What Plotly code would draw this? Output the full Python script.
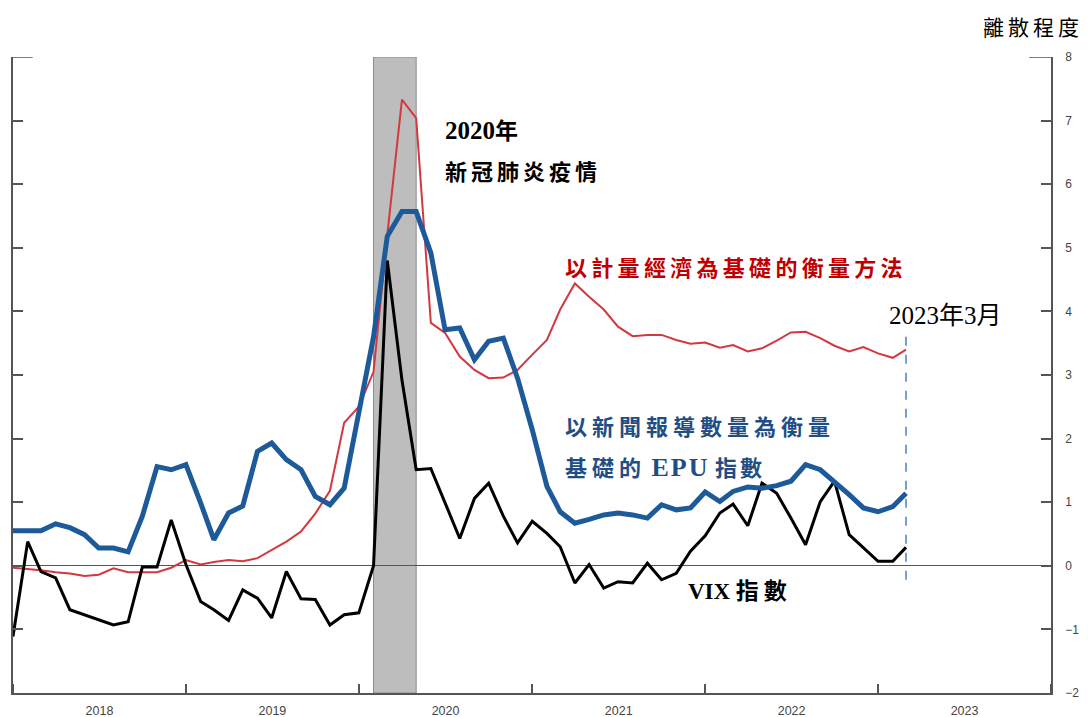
import plotly.graph_objects as go
import pandas as pd

# Monthly data, Jan 2018 .. Mar 2023
months = pd.date_range("2018-01-01", "2023-03-01", freq="MS")

epu = [0.55, 0.55, 0.55, 0.66, 0.60, 0.49, 0.28, 0.28, 0.22, 0.78, 1.56, 1.51,
       1.59, 0.99, 0.41, 0.83, 0.94, 1.80, 1.93, 1.67, 1.51, 1.09, 0.96, 1.22,
       2.45, 3.60, 5.18, 5.57, 5.57, 4.92, 3.71, 3.74, 3.24, 3.53, 3.58, 2.95,
       2.14, 1.25, 0.85, 0.67, 0.73, 0.80, 0.83, 0.80, 0.75, 0.96, 0.88, 0.91,
       1.16, 1.01, 1.17, 1.24, 1.22, 1.26, 1.33, 1.59, 1.51, 1.33, 1.12, 0.91,
       0.85, 0.93, 1.14]

vix = [-1.11, 0.38, -0.09, -0.19, -0.69, -0.77, -0.84, -0.93, -0.88, -0.02, -0.02, 0.72,
       0.02, -0.56, -0.69, -0.86, -0.38, -0.51, -0.82, -0.09, -0.52, -0.53, -0.93, -0.77,
       -0.74, 0.00, 4.80, 2.92, 1.51, 1.53, 0.99, 0.43, 1.06, 1.30, 0.78, 0.36,
       0.70, 0.51, 0.30, -0.27, 0.02, -0.35, -0.25, -0.27, 0.04, -0.22, -0.12, 0.23,
       0.47, 0.83, 0.97, 0.63, 1.30, 1.14, 0.75, 0.33, 1.01, 1.33, 0.49, 0.28,
       0.07, 0.07, 0.29]

econ = [-0.03, -0.05, -0.07, -0.10, -0.12, -0.16, -0.14, -0.04, -0.10, -0.10, -0.10, -0.03,
        0.09, 0.02, 0.06, 0.09, 0.07, 0.12, 0.25, 0.38, 0.54, 0.82, 1.18, 2.25,
        2.50, 3.05, 5.20, 7.33, 7.04, 3.82, 3.66, 3.29, 3.08, 2.95, 2.96, 3.08,
        3.32, 3.55, 4.03, 4.44, 4.23, 4.03, 3.76, 3.61, 3.63, 3.63, 3.55, 3.49,
        3.51, 3.43, 3.47, 3.37, 3.42, 3.54, 3.67, 3.68, 3.58, 3.46, 3.37, 3.44,
        3.34, 3.27, 3.40]

y_ticks = [-2, -1, 0, 1, 2, 3, 4, 5, 6, 7, 8]
y_tick_labels = ["\u22122", "\u22121", "0", "1", "2", "3", "4", "5", "6", "7", "8"]

covid_start, covid_end = "2020-02-01", "2020-05-01"
last_month = "2023-03-01"

CJK = "Liberation Serif, Noto Sans CJK TC, sans-serif"

fig = go.Figure()
fig.add_trace(go.Scatter(x=months, y=econ, mode="lines",
                         line=dict(color="#d4383f", width=2), name="econ"))
fig.add_trace(go.Scatter(x=months, y=vix, mode="lines",
                         line=dict(color="#000000", width=3), name="vix"))
fig.add_trace(go.Scatter(x=months, y=epu, mode="lines",
                         line=dict(color="#1d5a9a", width=5), name="epu"))

fig.add_shape(type="rect", xref="x", yref="y", x0=covid_start, x1=covid_end,
              y0=-2, y1=8, fillcolor="#bdbdbd", line=dict(color="#8c8c8c", width=1),
              layer="below")
fig.add_shape(type="line", xref="x", yref="y", x0=last_month, x1=last_month,
              y0=-0.22, y1=3.66, line=dict(color="#4a7fc4", width=1.5, dash="dash"))
# longer top ticks at 8
fig.add_shape(type="line", xref="paper", yref="y", x0=0, x1=0.019, y0=8, y1=8,
              line=dict(color="#555555", width=1.5))
fig.add_shape(type="line", xref="paper", yref="y", x0=0.979, x1=1, y0=8, y1=8,
              line=dict(color="#555555", width=1.5))

def sp(t, s=5, size=None):
    st = f"letter-spacing:{s}px"
    if size:
        st += f";font-size:{size}px"
    return f'<span style="{st}">{t}</span>'

anns = [
    dict(x="2020-06-27", y=6.85, text="<b>" + sp("2020", 0, 25) + sp("年", 0, 23) + "</b>", color="#000000", size=23),
    dict(x="2020-06-27", y=6.19, text="<b>" + sp("新冠肺炎疫情", 4) + "</b>", color="#000000", size=22),
    dict(x="2021-03-06", y=4.68, text="<b>" + sp("以計量經濟為基礎的衡量方法", 4.3) + "</b>", color="#c00000", size=22),
    dict(x="2023-01-20", y=3.93, text=sp("2023年3月", 0), color="#000000", size=25),
    dict(x="2021-03-06", y=2.17, text="<b>" + sp("以新聞報導數量為衡量", 5) + "</b>", color="#1f4e85", size=22),
    dict(x="2021-03-06", y=1.54, text="<b>" + sp("基礎的", 5) + " " + sp("EPU", 2, 26) + " " + sp("指數", 3) + "</b>", color="#1f4e85", size=22),
    dict(x="2021-11-22", y=-0.41, text="<b>" + sp("VIX", 0, 23) + " " + sp("指數", 5, 23) + "</b>", color="#000000", size=22),
]
for a in anns:
    fig.add_annotation(x=a["x"], y=a["y"], xref="x", yref="y", text=a["text"],
                       showarrow=False, xanchor="left", yanchor="middle",
                       font=dict(family=CJK, size=a["size"], color=a["color"]))

fig.add_annotation(x=1.0328, y=1.046, xref="paper", yref="paper",
                   text=sp("離散程度", 4), showarrow=False, xanchor="right",
                   yanchor="middle",
                   font=dict(family=CJK, size=21, color="#000000"))

# page body has an 8px default margin; compensate so the plot lands where the reference has it
fig.update_layout(
    width=1080, height=709,
    margin=dict(l=5, r=37, t=49, b=24),
    paper_bgcolor="white", plot_bgcolor="white",
    showlegend=False,
    xaxis=dict(range=["2018-01-01", "2024-01-01"], type="date",
               tick0="2018-01-01", dtick="M12", tickformat="%Y",
               ticklabelmode="period", ticks="inside", ticklen=9,
               tickcolor="#555555", tickwidth=1.5,
               showline=True, linecolor="#555555", linewidth=1.5,
               showgrid=False, zeroline=False, ticklabelstandoff=5, automargin=False,
               tickfont=dict(family="Liberation Sans, Arial", size=12.5, color="#444444")),
    yaxis=dict(range=[-2, 8], side="right", tickvals=y_ticks, ticktext=y_tick_labels,
               ticks="inside", ticklen=10, tickcolor="#555555", tickwidth=1.5,
               showline=True, linecolor="#555555", linewidth=1.5, mirror="ticks",
               showgrid=False, zeroline=True, zerolinecolor="#555555", zerolinewidth=1,
               ticklabelstandoff=10, automargin=False,
               tickfont=dict(family="Liberation Sans, Arial", size=12, color="#444444")),
)

fig.write_html("out.html")
